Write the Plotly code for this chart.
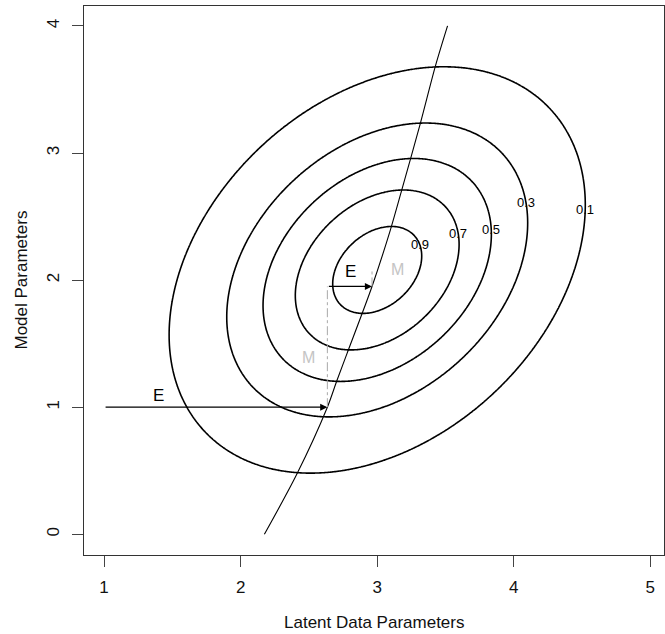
import numpy as np
import plotly.graph_objects as go

# ---- data ----
# bivariate Gaussian whose relative-density contours are drawn
mean_latent = 3.0
mean_model = 2.08
sd_latent = 0.71
sd_model = 0.745
corr = 0.32

contour_levels = [0.1, 0.3, 0.5, 0.7, 0.9]
contour_label_y = [2.557, 2.609, 2.40, 2.368, 2.284]

# curve of optimal latent-data parameters given model parameters
curve_model = [0.0, 0.47, 1.0, 1.21, 1.42, 1.95, 2.39, 2.71, 3.23, 3.68, 4.0]
curve_latent = [2.174, 2.41, 2.635, 2.705, 2.778, 2.962, 3.095, 3.18, 3.315, 3.425, 3.515]

# EM path
em_start_latent = 1.0
em_model_steps = [1.0, 1.95, 2.07]

x_ticks = [1, 2, 3, 4, 5]
y_ticks = [0, 1, 2, 3, 4]
x_title = "Latent Data Parameters"
y_title = "Model Parameters"

FONT = "Liberation Sans, Arial, Helvetica, sans-serif"

# ---- density grid ----
xs = np.linspace(0.80, 5.20, 420)
ys = np.linspace(-0.25, 4.25, 420)
X, Y = np.meshgrid(xs, ys)
U = (X - mean_latent) / sd_latent
V = (Y - mean_model) / sd_model
Q = (U**2 - 2 * corr * U * V + V**2) / (1 - corr**2)
Z = np.exp(-Q / 2)

fig = go.Figure()
fig.add_trace(go.Contour(
    x=xs, y=ys, z=Z,
    contours=dict(start=min(contour_levels), end=max(contour_levels),
                  size=contour_levels[1] - contour_levels[0],
                  coloring="lines", showlabels=False),
    colorscale=[[0, "black"], [1, "black"]],
    line=dict(width=1.6, smoothing=1.3),
    showscale=False, hoverinfo="skip",
))

# curve
fig.add_trace(go.Scatter(
    x=curve_latent, y=curve_model, mode="lines",
    line=dict(color="black", width=1.1, shape="spline", smoothing=0.8),
    hoverinfo="skip", showlegend=False,
))

def curve_at(y):
    return float(np.interp(y, curve_model, curve_latent))

annotations = []

# contour labels placed on the right side of each contour
for lev, ly in zip(contour_levels, contour_label_y):
    q = -2 * np.log(lev)
    v = (ly - mean_model) / sd_model
    u = corr * v + np.sqrt((1 - corr**2) * (q - v**2))
    lx = mean_latent + u * sd_latent
    annotations.append(dict(x=lx, y=ly, text=f"{lev:.1f}", showarrow=False,
                            font=dict(family=FONT, size=13, color="#000000"),
                            xanchor="center", yanchor="middle"))

# EM steps
prev_x = em_start_latent
e_label_shift = [12, 15]
e_label_dx = [0.40, 0.167]
m_label_pos = [(-0.135, 0.39), (0.19, 0.13)]
for i, ym in enumerate(em_model_steps[:-1]):
    tip_x = curve_at(ym)
    # E step (horizontal arrow)
    annotations.append(dict(x=tip_x, y=ym, ax=prev_x, ay=ym, xref="x", yref="y",
                            axref="x", ayref="y", showarrow=True, arrowhead=2,
                            arrowsize=1.1, arrowwidth=1.3, arrowcolor="black",
                            standoff=0, startstandoff=0, text=""))
    annotations.append(dict(x=prev_x + e_label_dx[i], y=ym, yshift=e_label_shift[i],
                            text="E", showarrow=False,
                            font=dict(family=FONT, size=17, color="black")))
    # M step (vertical move)
    ynext = em_model_steps[i + 1]
    fig.add_trace(go.Scatter(
        x=[tip_x, tip_x], y=[ym, ynext], mode="lines",
        line=dict(color="#a8a8a8", width=1, dash="dashdot"),
        hoverinfo="skip", showlegend=False,
    ))
    dx, dy = m_label_pos[i]
    annotations.append(dict(x=tip_x + dx, y=ym + dy, text="M", showarrow=False,
                            font=dict(family=FONT, size=16, color="#c4c4c4")))
    prev_x = tip_x

# axis titles
annotations.append(dict(x=0.5, y=0, xref="paper", yref="paper", yshift=-67,
                        text=x_title, showarrow=False, yanchor="middle",
                        font=dict(family=FONT, size=17, color="#111")))
annotations.append(dict(x=0, y=0.5, xref="paper", yref="paper", xshift=-63,
                        text=y_title, showarrow=False, textangle=-90, xanchor="center",
                        font=dict(family=FONT, size=17, color="#111")))

axis_common = dict(showgrid=False, zeroline=False, showline=True, mirror=True,
                   linecolor="#333", linewidth=1.2, ticks="outside", ticklen=11,
                   tickcolor="#444", tickwidth=1, automargin=False,
                   tickfont=dict(family=FONT, size=17, color="#111"))

fig.update_layout(
    width=665, height=634,
    margin=dict(l=84, r=1, t=6, b=79, autoexpand=False),
    paper_bgcolor="white", plot_bgcolor="white",
    showlegend=False,
    annotations=annotations,
    xaxis=dict(range=[0.853, 5.10], tickvals=x_ticks, ticklabelstandoff=5, **axis_common),
    yaxis=dict(range=[-0.163, 4.157], tickvals=y_ticks, tickangle=-90,
               ticklabelstandoff=6, **axis_common),
)

fig.write_html("out.html", config={"displayModeBar": False},
               post_script="document.body.style.margin='0';document.body.style.overflow='hidden';")
